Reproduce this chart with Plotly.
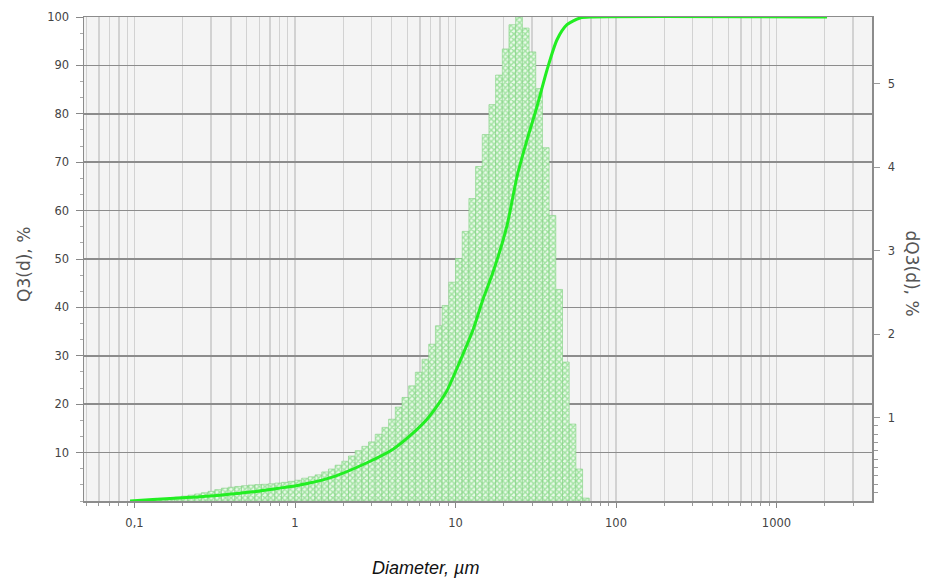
import plotly.graph_objects as go

# Bin edges of the size classes (µm)
BIN_EDGES_UM = [
    0.1, 0.1101, 0.1212, 0.1334, 0.1468, 0.1616, 0.1778, 0.1957, 0.2154, 0.2371, 0.2610, 0.2873,
    0.3162, 0.3481, 0.3831, 0.4217, 0.4642, 0.5109, 0.5623, 0.6190, 0.6813, 0.7499, 0.8254, 0.9085,
    1.0, 1.101, 1.212, 1.334, 1.468, 1.616, 1.778, 1.957, 2.154, 2.371, 2.610, 2.873,
    3.162, 3.481, 3.831, 4.217, 4.642, 5.109, 5.623, 6.190, 6.813, 7.499, 8.254, 9.085,
    10.0, 11.01, 12.12, 13.34, 14.68, 16.16, 17.78, 19.57, 21.54, 23.71, 26.10, 28.73,
    31.62, 34.81, 38.31, 42.17, 46.42, 51.09, 56.23, 61.90, 68.13,
]

# Differential distribution dQ3(d), % per class
DQ3 = [
    0.006, 0.012, 0.017, 0.023, 0.029, 0.038, 0.046, 0.058, 0.070, 0.084, 0.099, 0.116,
    0.136, 0.154, 0.165, 0.174, 0.183, 0.191, 0.197, 0.200, 0.206, 0.215, 0.223, 0.235,
    0.249, 0.273, 0.290, 0.313, 0.348, 0.383, 0.429, 0.476, 0.539, 0.603, 0.655, 0.708,
    0.800, 0.882, 0.980, 1.125, 1.241, 1.380, 1.543, 1.699, 1.879, 2.100, 2.343, 2.622,
    2.906, 3.231, 3.625, 4.008, 4.391, 4.750, 5.104, 5.417, 5.707, 5.800, 5.667, 5.382,
    4.942, 4.234, 3.422, 2.535, 1.665, 0.922, 0.383, 0.035,
]

# Cumulative distribution Q3(d), %
Q3_D_UM = [0.0938, 0.13, 0.212, 0.341, 0.547, 0.773, 1.0, 1.19, 1.73, 2.81, 4.08, 5.21,
           6.64, 8.0, 8.85, 10.67, 12.9, 14.8, 17.1, 20.9, 24.2, 27.9, 32.2, 37.2,
           42.9, 49.5, 59.7, 71.9, 2065]
Q3 = [0, 0.3, 0.7, 1.2, 1.9, 2.6, 3.1, 3.6, 5.0, 7.9, 10.7, 13.5,
      16.9, 20.5, 22.8, 28.9, 35.5, 41.6, 47.2, 56.8, 67.1, 74.6, 81.5, 89.1,
      95.3, 98.4, 99.8, 100, 100]

X_TICKS = [0.1, 1, 10, 100, 1000]
X_TICK_TEXT = ["0,1", "1", "10", "100", "1000"]
Q3_TICKS = [10, 20, 30, 40, 50, 60, 70, 80, 90, 100]
DQ3_TICKS = [1, 2, 3, 4, 5]
DQ3_MINOR = [0.1, 0.2, 0.3, 0.4, 0.5, 0.6, 0.7, 0.8, 0.9]

left_edges = BIN_EDGES_UM[:-1]
widths = [b - a for a, b in zip(BIN_EDGES_UM[:-1], BIN_EDGES_UM[1:])]

fig = go.Figure()
fig.add_trace(go.Bar(
    x=left_edges, y=DQ3, width=widths, offset=0,
    marker=dict(
        color="#dcf5dc",
        line=dict(color="#80d080", width=0.6),
        pattern=dict(shape="x", size=4, solidity=0.6, fgcolor="#55cc55", bgcolor="#eaf9ea"),
    ),
    yaxis="y", showlegend=False, hoverinfo="skip",
))
fig.add_trace(go.Scatter(
    x=Q3_D_UM, y=Q3, mode="lines",
    line=dict(color="#22ee22", width=3, shape="spline", smoothing=0.7),
    yaxis="y2", showlegend=False, hoverinfo="skip",
))

tickfont = dict(family="DejaVu Sans", size=11.5, color="#444444")
fig.update_layout(
    width=926, height=581,
    margin=dict(l=84, r=54, t=17, b=80, autoexpand=False),
    paper_bgcolor="white", plot_bgcolor="#f4f4f4",
    bargap=0,
    xaxis=dict(
        type="log", range=[-1.3146, 3.595], automargin=False,
        tickmode="array", tickvals=X_TICKS, ticktext=X_TICK_TEXT,
        ticks="outside", ticklen=5, tickcolor="#888888",
        showgrid=True, gridcolor="#d2d2d2", gridwidth=1.3,
        minor=dict(dtick="D1", showgrid=True, gridcolor="#d2d2d2", gridwidth=1.3,
                   ticks="outside", ticklen=3, tickcolor="#999999"),
        showline=True, linecolor="#8c8c8c", linewidth=1.5, mirror=True,
        tickfont=tickfont, ticklabelstandoff=6, zeroline=False,
    ),
    yaxis=dict(
        side="right", range=[0, 5.8], automargin=False,
        tickmode="array", tickvals=DQ3_TICKS,
        ticks="outside", ticklen=6, tickcolor="#999999",
        minor=dict(tickvals=DQ3_MINOR, ticks="outside", ticklen=4, tickcolor="#999999"),
        showgrid=False, zeroline=False, showline=True, linecolor="#8c8c8c", linewidth=1.5,
        tickfont=tickfont, ticklabelstandoff=6,
    ),
    yaxis2=dict(
        side="left", overlaying="y", range=[0, 100], automargin=False,
        tickmode="array", tickvals=Q3_TICKS,
        ticks="outside", ticklen=7, tickcolor="#888888",
        minor=dict(dtick=10 / 3, ticks="outside", ticklen=3, tickcolor="#aaaaaa"),
        showgrid=True, gridcolor="#8c8c8c", gridwidth=1.6,
        zeroline=False, showline=True, linecolor="#8c8c8c", linewidth=1.5,
        tickfont=tickfont, ticklabelstandoff=4,
    ),
    annotations=[
        dict(text="Q3(d), %", xref="paper", yref="paper", x=-0.076, y=0.488,
             textangle=-90, showarrow=False, xanchor="center", yanchor="middle",
             font=dict(family="DejaVu Sans", size=17, color="#555555")),
        dict(text="dQ3(d), %", xref="paper", yref="paper", x=1.052, y=0.47,
             textangle=90, showarrow=False, xanchor="center", yanchor="middle",
             font=dict(family="DejaVu Sans", size=17, color="#555555")),
        dict(text="<i>Diameter, µm</i>", xref="paper", yref="paper", x=0.433, y=-0.138,
             showarrow=False, xanchor="center", yanchor="middle",
             font=dict(family="Liberation Sans", size=18, color="#111111")),
    ],
)

fig.write_html(
    "out.html",
    config={"displayModeBar": False, "staticPlot": True},
    post_script="document.body.style.margin='0';document.body.style.overflow='hidden';",
)
